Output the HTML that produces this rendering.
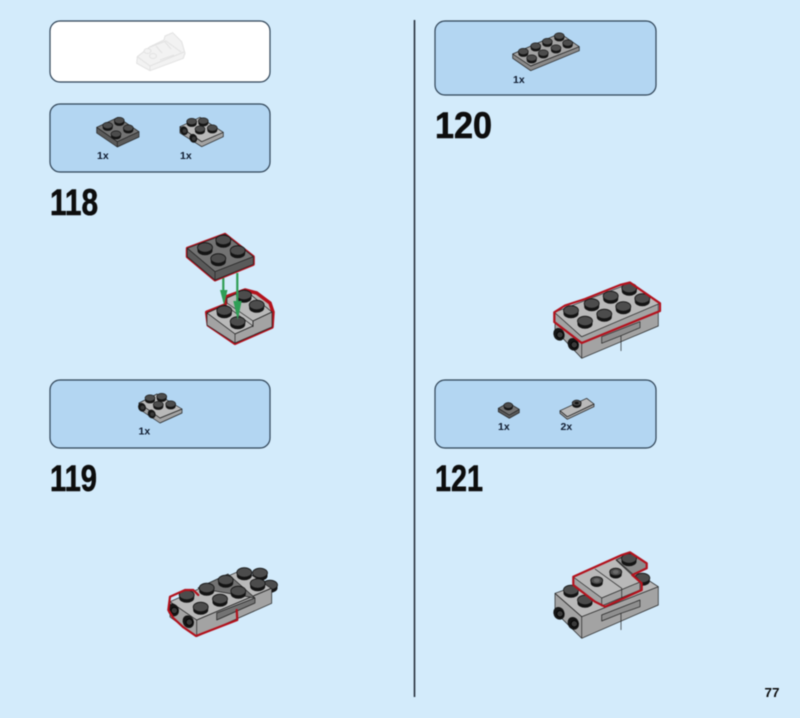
<!DOCTYPE html>
<html><head><meta charset="utf-8"><style>
html,body{margin:0;padding:0;background:#d3ebfb;width:800px;height:718px;overflow:hidden}
svg{display:block;filter:blur(.4px)}
text{font-family:"Liberation Sans",sans-serif;font-weight:bold;fill:#0d0d0d}
.n{font-size:37px;stroke:#0d0d0d;stroke-width:.6}.q{font-size:10.5px;fill:#101c30}
.p{fill:#b3d6f2;stroke:#2f4356;stroke-width:1.2}
.l{fill:#b9b9b9;stroke:#222;stroke-width:.7;stroke-linejoin:round}
.m{fill:#a3a3a3;stroke:#222;stroke-width:.7;stroke-linejoin:round}
.d{fill:#737373;stroke:#222;stroke-width:.7;stroke-linejoin:round}
.e{fill:#5a5a5a;stroke:#222;stroke-width:.7;stroke-linejoin:round}
.r{fill:none;stroke:#b3121d;stroke-width:2.2;stroke-linejoin:round;stroke-linecap:round}
</style></head><body>
<svg width="800" height="718" viewBox="0 0 800 718" xmlns="http://www.w3.org/2000/svg">
<defs>
<g id="s"><path d="M-7.5 0v3a7.5 4.8 0 0 0 15 0v-3z" fill="#141414"/><ellipse rx="7.5" ry="4.8" fill="#4c4c4c" stroke="#141414" stroke-width=".8"/></g>
<g id="t"><path d="M-5 0v2.2a5 3.2 0 0 0 10 0v-2.2z" fill="#141414"/><ellipse rx="5" ry="3.2" fill="#4c4c4c" stroke="#141414" stroke-width=".7"/></g>
<g id="c"><ellipse rx="5.5" ry="6.5" fill="#161616" transform="rotate(-25)"/><circle cx="1" cy=".5" r="3.2" fill="#3a3a3a" stroke="#000" stroke-width=".8"/></g>
<g id="k"><ellipse rx="3.8" ry="4.5" fill="#161616" transform="rotate(-25)"/><circle cx=".6" cy=".3" r="2" fill="#3a3a3a"/></g>
</defs>
<rect width="800" height="718" fill="#d3ebfb"/>
<rect x="50" y="21" width="220" height="61" rx="10" fill="#fff" stroke="#2f4356" stroke-width="1.2"/>
<rect class="p" x="50" y="104" width="220" height="68" rx="10"/>
<rect class="p" x="50" y="380" width="220" height="68" rx="10"/>
<rect class="p" x="435" y="21" width="221" height="74" rx="10"/>
<rect class="p" x="435" y="380" width="221" height="68" rx="10"/>
<line x1="414.5" y1="20" x2="414.5" y2="697" stroke="#1b2530" stroke-width="1.5"/>

<!-- ghost -->
<g fill="#f2f2f2" stroke="#e2e2e2" stroke-width="1" stroke-linejoin="round">
<path d="M137.3 56.7L150 46.7 164 40 165 36 172.7 32.7 181.7 41.7 185 53.3 183.3 58.3 150 70.7 136.700 63.300Z"/>
<path d="M137.3 56.7L150 66V70.700M150 66L184 52M150 47L166 41 181 52M156 46l6 7M165 42l6 7M160 60l14-5" fill="none"/>
<ellipse cx="147.500" cy="51" rx="3.500" ry="2.500"/><ellipse cx="153" cy="56" rx="3.500" ry="2.500"/>
</g>

<!-- parts 1 -->
<path class="e" d="M96.7 127.300V133L117.300 147 139 137V131.700L117.300 141.700Z"/>
<path class="d" d="M96.7 127.300L118 117.300 139 131.700 117.300 141.700Z"/>
<path d="M117.300 141.700V147" stroke="#222" stroke-width=".7"/>
<use href="#t" transform="translate(107.700 125.500)"/><use href="#t" transform="translate(119.300 120.500)"/><use href="#t" transform="translate(128.300 128)"/><use href="#t" transform="translate(116 134)"/>

<path class="m" d="M180 126.700V133L201.700 146.700 223.300 136.700V132.300L201.700 141.700Z"/>
<path class="l" d="M180 126.700L200 117.300 223.300 132.300 201.700 141.700Z"/>
<use href="#t" transform="translate(191.700 121.500)"/><use href="#t" transform="translate(203.300 121)"/><use href="#t" transform="translate(200 129)"/><use href="#t" transform="translate(212.300 128)"/>
<use href="#k" transform="translate(184 130.700)"/><use href="#k" transform="translate(193.300 138.300)"/>

<!-- parts 2 -->
<path class="m" d="M139 403V409L160 423 182 413V409L160 418Z"/>
<path class="l" d="M139 403L157 394 182 409 160 418Z"/>
<use href="#t" transform="translate(150 398)"/><use href="#t" transform="translate(161.700 396.500)"/><use href="#t" transform="translate(158.300 404.500)"/><use href="#t" transform="translate(170.700 404)"/>
<use href="#k" transform="translate(142 407.300)"/><use href="#k" transform="translate(151.700 414)"/>

<!-- parts 120 -->
<path class="e" style="fill:#8a8a8a" d="M512.700 54V58.300L530.700 70.700 579.300 50.700V46.700L530.700 66Z"/>
<path class="m" d="M512.700 54L560 33.300 579.300 46.700 530.700 66Z"/>
<g><use href="#t" transform="translate(523.300 51.500)"/><use href="#t" transform="translate(535.700 46)"/><use href="#t" transform="translate(547.300 41.500)"/><use href="#t" transform="translate(559.300 36)"/><use href="#t" transform="translate(531.700 58)"/><use href="#t" transform="translate(543.300 53)"/><use href="#t" transform="translate(556 48)"/><use href="#t" transform="translate(567.700 43)"/></g>

<!-- parts 121 -->
<path class="e" d="M498.300 408.300V411.700L509.300 418.300 519.300 412.700V409.300L509.300 415Z"/>
<path class="d" d="M498.300 408.300L508.300 402.700 519.300 409.300 509.300 415Z"/>
<use href="#t" transform="translate(508.300 405.500) scale(.9)"/>
<path class="m" d="M560 410.700V413.300L567.300 419.300 594 406.700V404L567.300 416.700Z"/>
<path class="l" d="M560 410.700L586.700 398.300 594 404 567.300 416.700Z"/>
<use href="#t" transform="translate(576.700 403) scale(.9)"/><ellipse cx="576.700" cy="403" rx="2" ry="1.300" fill="#111"/>

<!-- step 118 -->
<path d="M206.700 312.300L225 305 226.700 296.700 245 290 256.700 293 270 303 273 312 272 327 235 343.300 208.300 325Z" fill="#b9b9b9" stroke="#b3121d" stroke-width="3.500" stroke-linejoin="round"/>
<path class="l" d="M207 313L225 305 253 326 235 334Z"/>
<path class="l" d="M227 298L245 290 272 312 253 321 227 303Z"/>
<path class="m" d="M207 313V325L235 343 272 327V312L253 321V326L235 334Z"/>
<path d="M235 334V343M253 321V327" stroke="#222" stroke-width=".7"/>
<use href="#s" transform="translate(244 295)"/><use href="#s" transform="translate(256.700 305)"/>
<use href="#s" transform="translate(224.300 310.500)"/>
<path d="M223.300 278V292" stroke="#2f9e55" stroke-width="2.200"/><path d="M220 290L227.500 290 224 305Z" fill="#2f9e55"/>
<use href="#s" transform="translate(237.700 321.500)"/>
<path d="M237.300 273V302" stroke="#2f9e55" stroke-width="2.200"/><path d="M233.300 301L241.700 301 237.700 320Z" fill="#2f9e55"/>

<path d="M187.300 248.300L225 234.300 253.300 256.700V264.300L215 280 187.300 256.700Z" fill="#666" stroke="#b3121d" stroke-width="3" stroke-linejoin="round"/>
<path class="d" d="M187.300 248.300L225 234.300 253.300 256.700 215 271.700Z"/>
<path class="e" d="M187.300 248.300L215 271.700 253.300 256.700V264.300L215 280 187.300 256.700Z"/>
<path d="M215 271.700V280" stroke="#222" stroke-width=".7"/>
<use href="#s" transform="translate(205 247.500)"/><use href="#s" transform="translate(223.300 240)"/><use href="#s" transform="translate(237.700 250.500)"/><use href="#s" transform="translate(218.300 258.500)"/>

<!-- step 119 -->
<use href="#s" transform="translate(260 573)"/><use href="#s" transform="translate(270 585)"/>
<path class="m" d="M170 601.700V617L196.700 636.700 271.700 603.300V588.300L196.700 620Z"/>
<path class="l" d="M170 601.700L243.300 569.300 271 588.300 196.700 620Z"/>
<path class="d" d="M198 588L228 574 255 598 216.700 613V620L255 603V598Z"/>
<path d="M196.700 620V636.700" stroke="#222" stroke-width=".7"/>
<use href="#s" transform="translate(186.700 595)"/><use href="#s" transform="translate(200.700 607)"/><use href="#s" transform="translate(206.700 588)"/><use href="#s" transform="translate(225.700 580)"/><use href="#s" transform="translate(220 599)"/><use href="#s" transform="translate(238.300 591)"/><use href="#s" transform="translate(244.300 572.500)"/><use href="#s" transform="translate(257.700 583.500)"/>
<use href="#c" transform="translate(173.300 610)"/><use href="#c" transform="translate(188.300 621.700)"/>
<path class="r" d="M198.300 595L193.300 590H185L170 596.700 168.300 610 173.300 618 183 627 196 636 237.300 620 236.700 610"/>

<!-- step 120 -->
<path class="m" d="M555 312V330L581.700 358.300 658.300 326V303L581.700 336.700Z"/>
<path class="l" d="M554.300 312.300L630 283.300 660 303.300 581.700 336.700Z"/>
<path class="m" d="M601.700 336.700L640 321.700V327.700L621 335.700 601.700 343.300Z" style="fill:#8f8f8f"/>
<path d="M581.700 343V358M621 335.700V351" stroke="#222" stroke-width=".7"/>
<g><use href="#s" transform="translate(571 310.500)"/><use href="#s" transform="translate(591.700 303.500)"/><use href="#s" transform="translate(610.700 296)"/><use href="#s" transform="translate(629.300 288)"/><use href="#s" transform="translate(585 321)"/><use href="#s" transform="translate(604.300 314)"/><use href="#s" transform="translate(623.300 306.500)"/><use href="#s" transform="translate(642.300 298.500)"/></g>
<use href="#c" transform="translate(559 334.300)"/><use href="#c" transform="translate(573.300 344.300)"/>
<path class="r" d="M554.300 312.300V322L581.700 343 660 311V303.300L630 282.500 620 285 605 291 585 299 565 305.500Z"/>

<!-- step 121 -->
<path class="m" d="M555 593.300V611.700L581.700 638.300 658.300 605V586.700L581.700 616.700Z"/>
<path class="l" d="M555 593.300L628 567 658.300 586.700 581.700 616.700Z"/>
<path class="m" d="M601.700 615L640 600V606.700L621 613.300 601.700 621Z" style="fill:#8f8f8f"/>
<path d="M581.700 617V638M621 613V630" stroke="#222" stroke-width=".7"/>
<use href="#s" transform="translate(571 590)"/><use href="#s" transform="translate(585 600)"/><use href="#s" transform="translate(642.300 578)"/>
<use href="#c" transform="translate(559 613.300)"/><use href="#c" transform="translate(573.300 623.300)"/>
<path d="M573.300 576.700L621.700 555 630 552.300 646.700 563.300V568.300L632.300 575 641.700 583.300V590L605 606.700 595 601.700 573.300 585Z" fill="#b9b9b9"/>
<path class="d" d="M616 560L630 553 646.700 563.300V568.300L632 575Z" style="fill:#8c8c8c"/>
<path class="m" d="M573.300 577V585L601.700 606V598ZM601.700 598L640 582V590L601.700 606Z"/>
<path d="M595 569L621.700 588.300V598M616.700 560L638 578.600" stroke="#222" stroke-width=".7" fill="none"/>
<use href="#t" transform="translate(596.700 580.500) scale(1.200)"/><ellipse cx="596.700" cy="580.500" rx="3" ry="2" fill="#6a6a6a"/>
<use href="#t" transform="translate(615.700 572) scale(1.200)"/><ellipse cx="615.700" cy="572" rx="3" ry="2" fill="#6a6a6a"/>
<use href="#s" transform="translate(629 558.500)"/>
<path class="r" d="M573.300 576.700L621.700 555 630 552.300 646.700 563.300V568.300L632.300 575 641.700 583.300V590L605 606.700 595 601.700 573.300 585Z"/>

<!-- labels -->
<text class="q" x="97" y="159">1x</text><text class="q" x="180" y="159">1x</text>
<text class="q" x="138.500" y="434.500">1x</text>
<text class="q" x="513" y="83">1x</text>
<text class="q" x="498" y="430">1x</text><text class="q" x="560.500" y="430">2x</text>
<text class="n" x="50" y="215" textLength="48" lengthAdjust="spacingAndGlyphs">118</text>
<text class="n" x="50" y="491" textLength="47" lengthAdjust="spacingAndGlyphs">119</text>
<text class="n" x="435" y="138" textLength="57" lengthAdjust="spacingAndGlyphs">120</text>
<text class="n" x="435" y="491" textLength="48" lengthAdjust="spacingAndGlyphs">121</text>
<text x="764.500" y="697" font-size="12.500" textLength="15" lengthAdjust="spacingAndGlyphs">77</text>
</svg>
</body></html>
